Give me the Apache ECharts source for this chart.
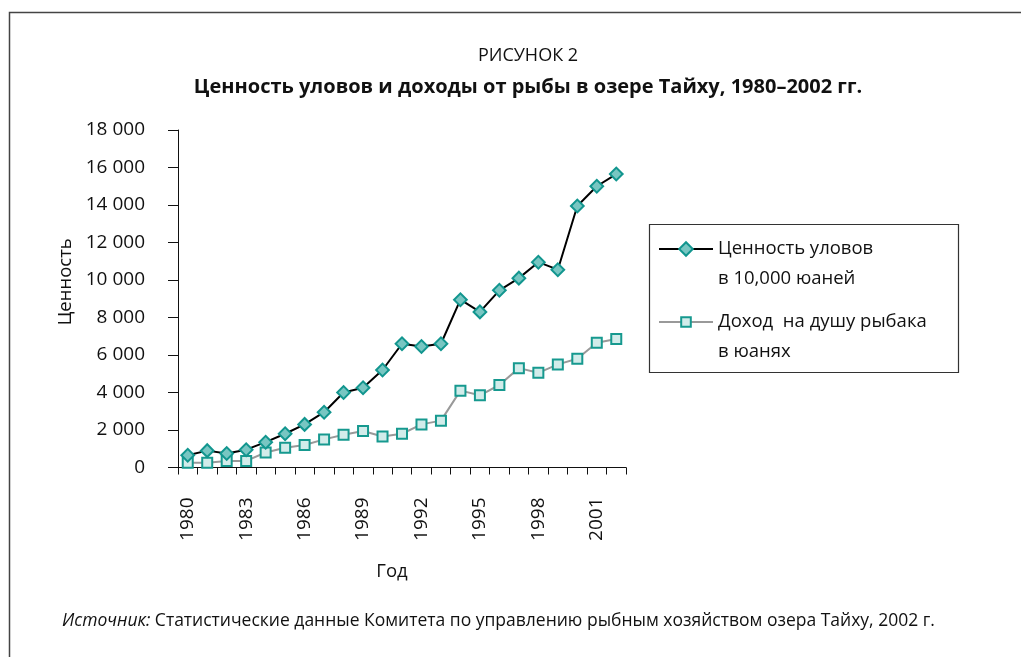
<!DOCTYPE html>
<html>
<head>
<meta charset="utf-8">
<script src="https://cdn.jsdelivr.net/npm/echarts@6/dist/echarts.min.js"></script>
<style>
  html, body { margin: 0; padding: 0; background: #fff; }
  #chart { width: 1021px; height: 657px; }
</style>
</head>
<body>
<div id="chart"></div>
<script>
// годы и значения
const years = ['1980','1981','1982','1983','1984','1985','1986','1987','1988','1989','1990',
  '1991','1992','1993','1994','1995','1996','1997','1998','1999','2000','2001','2002'];
const catchValue = [650, 900, 750, 950, 1350, 1800, 2300, 2950, 4000, 4250, 5200,
  6600, 6450, 6600, 8950, 8300, 9450, 10100, 10950, 10550, 13950, 15000, 15650];
const incomePerFisher = [250, 250, 350, 350, 800, 1050, 1200, 1500, 1750, 1950, 1650,
  1800, 2300, 2500, 4100, 3850, 4400, 5300, 5050, 5500, 5800, 6650, 6850];
const seriesNames = ['Ценность уловов\nв 10,000 юаней', 'Доход  на душу рыбака\nв юанях'];

const FONT = '"Open Sans", "Noto Sans", sans-serif';
const fmt = v => String(v).replace(/\B(?=(\d{3})+(?!\d))/g, ' ');

const chart = echarts.init(document.getElementById('chart'));

// пустая первая строка — чтобы значок стоял напротив первой строки подписи
const legendBase = {
  orient: 'vertical', left: 658, padding: 0,
  itemWidth: 54, itemHeight: 12,
  formatter: name => '\n' + name,
  textStyle: { fontFamily: FONT, fontSize: 18.5, color: '#111', lineHeight: 30 }
};

chart.setOption({
  backgroundColor: '#fff',
  animation: false,
  title: [
    {
      text: 'РИСУНОК 2',
      subtext: 'Ценность уловов и доходы от рыбы в озере Тайху, 1980–2002 гг.',
      left: 523, top: 42, textAlign: 'center', itemGap: 12,
      textStyle: { fontFamily: FONT, fontSize: 18, fontWeight: 'normal', color: '#111' },
      subtextStyle: { fontFamily: FONT, fontSize: 20, fontWeight: 'bold', color: '#111' }
    },
    {
      text: '{i|Источник:} Статистические данные Комитета по управлению рыбным хозяйством озера Тайху, 2002 г.',
      left: 57, top: 607,
      textStyle: {
        fontFamily: FONT, fontSize: 17.5, fontWeight: 'normal', color: '#111',
        rich: { i: { fontFamily: FONT, fontSize: 17.5, fontStyle: 'italic', color: '#111' } }
      }
    }
  ],
  legend: [
    Object.assign({ data: [seriesNames[0]], top: 204 }, legendBase),
    Object.assign({ data: [seriesNames[1]], top: 277 }, legendBase)
  ],
  graphic: [
    // рамка рисунка
    { type: 'polyline', silent: true, shape: { points: [[9.5, 700], [9.5, 12.5], [1030, 12.5]] },
      style: { stroke: '#444', lineWidth: 1.5, fill: null } },
    // рамка легенды
    { type: 'rect', silent: true, shape: { x: 649.5, y: 224.5, width: 309, height: 148 },
      style: { stroke: '#333', lineWidth: 1.2, fill: null } }
  ],
  grid: { left: 178, right: 395, top: 130, bottom: 189.5, containLabel: false },
  xAxis: {
    type: 'category',
    data: years,
    boundaryGap: true,
    name: 'Год',
    nameLocation: 'middle',
    nameGap: 95,
    nameTextStyle: { fontFamily: FONT, fontSize: 18.5, color: '#111', padding: [0, 20, 0, 0] },
    axisLine: { lineStyle: { color: '#111', width: 1 } },
    axisTick: { show: true, length: 7, interval: 0, lineStyle: { color: '#111' } },
    axisLabel: { interval: 2, rotate: 90, margin: 30, fontFamily: FONT, fontSize: 19, color: '#111' },
    splitLine: { show: false }
  },
  yAxis: {
    type: 'value',
    min: 0, max: 18000, interval: 2000,
    name: 'Ценность',
    nameLocation: 'middle',
    nameGap: 103,
    nameRotate: 90,
    nameTextStyle: { fontFamily: FONT, fontSize: 18.5, color: '#111', padding: [0, 0, 0, 34] },
    axisLine: { show: true, lineStyle: { color: '#111', width: 1 } },
    axisTick: { show: true, length: 10, lineStyle: { color: '#111' } },
    axisLabel: { margin: 33, fontFamily: FONT, fontSize: 19, color: '#111', formatter: fmt },
    splitLine: { show: false }
  },
  series: [
    {
      name: seriesNames[0],
      type: 'line',
      data: catchValue,
      symbol: 'rect', symbolRotate: 45, symbolSize: 9,
      lineStyle: { color: '#000', width: 2 },
      itemStyle: { color: '#78c6c2', borderColor: '#12968f', borderWidth: 2 },
      z: 3
    },
    {
      name: seriesNames[1],
      type: 'line',
      data: incomePerFisher,
      symbol: 'rect', symbolSize: 10,
      lineStyle: { color: '#999', width: 2 },
      itemStyle: { color: '#d2ecea', borderColor: '#16998f', borderWidth: 2 },
      z: 2
    }
  ]
});
</script>
</body>
</html>
